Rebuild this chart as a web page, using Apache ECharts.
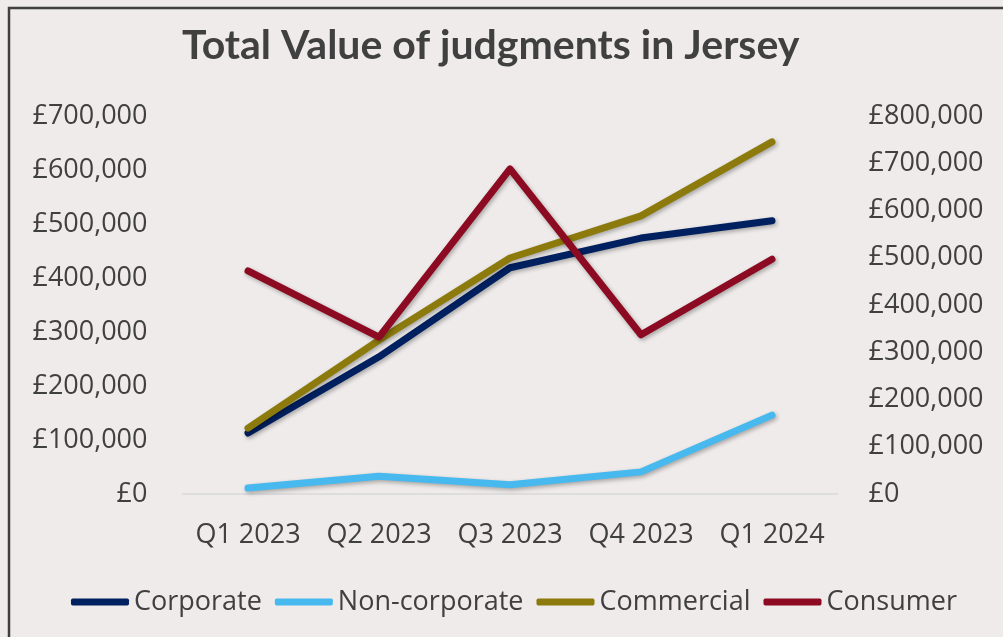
<!DOCTYPE html>
<html>
<head>
<meta charset="utf-8">
<script src="https://cdn.jsdelivr.net/npm/echarts@6/dist/echarts.min.js"></script>
<style>
  html, body { margin: 0; padding: 0; background: #eeebea; }
  #chart { width: 1003px; height: 637px; }
</style>
</head>
<body>
<div id="chart"></div>
<script>
// data
let quarters = ['Q1 2023', 'Q2 2023', 'Q3 2023', 'Q4 2023', 'Q1 2024'];
let corporate = [113000, 254000, 419000, 474000, 506000];
let nonCorporate = [11000, 33000, 17000, 41000, 146000];
let commercial = [122000, 285000, 437000, 515000, 652000];
// consumer is plotted on the right axis
let consumer = [472000, 332000, 688000, 337000, 497000];

let textColor = '#404040';
let font = '"Open Sans", sans-serif';

let myChart = echarts.init(document.getElementById('chart'));

function pounds(v) {
    return '£' + v.toLocaleString('en-GB');
}

function lineSeries(name, data, color, axis) {
    return {
        name: name,
        type: 'line',
        yAxisIndex: axis,
        data: data,
        symbol: 'none',
        color: color,
        lineStyle: {
            width: 7,
            color: color,
            cap: 'round',
            join: 'round',
            shadowColor: 'rgba(0,0,0,0.3)',
            shadowBlur: 4,
            shadowOffsetX: 1.5,
            shadowOffsetY: 2
        }
    };
}

let option = {
    backgroundColor: '#eeebea',
    animation: false,
    title: {
        text: 'Total Value of judgments in Jersey',
        left: 177,
        top: 20,
        textStyle: {
            fontFamily: 'Lato, sans-serif',
            fontWeight: 'bold',
            fontSize: 41,
            color: textColor
        }
    },
    graphic: [{
        type: 'rect',
        shape: { x: 9, y: 8, width: 1100, height: 700 },
        style: { fill: 'none', stroke: textColor, lineWidth: 2.5 },
        silent: true
    }],
    legend: {
        left: 66,
        top: 582,
        itemWidth: 58,
        itemHeight: 7,
        itemGap: 13,
        icon: 'roundRect',
        textStyle: {
            fontFamily: font,
            fontSize: 27,
            color: textColor,
            lineHeight: 30
        },
        data: ['Corporate', 'Non-corporate', 'Commercial', 'Consumer']
    },
    grid: {
        left: 182.5,
        right: 165.5,
        top: 116,
        bottom: 143,
        containLabel: false
    },
    xAxis: {
        type: 'category',
        data: quarters,
        axisLine: { lineStyle: { color: '#d9d9d9', width: 1.5 } },
        axisTick: { show: false },
        axisLabel: {
            interval: 0,
            margin: 28,
            fontFamily: font,
            fontSize: 27,
            color: textColor
        }
    },
    yAxis: [{
        type: 'value',
        min: 0,
        max: 700000,
        interval: 100000,
        splitLine: { show: false },
        axisLine: { show: false },
        axisTick: { show: false },
        axisLabel: {
            margin: 35,
            fontFamily: font,
            fontSize: 27,
            color: textColor,
            formatter: pounds
        }
    }, {
        type: 'value',
        min: 0,
        max: 800000,
        interval: 100000,
        splitLine: { show: false },
        axisLine: { show: false },
        axisTick: { show: false },
        axisLabel: {
            margin: 31,
            fontFamily: font,
            fontSize: 27,
            color: textColor,
            formatter: pounds
        }
    }],
    series: [
        lineSeries('Corporate', corporate, '#002060', 0),
        lineSeries('Non-corporate', nonCorporate, '#47b9ef', 0),
        lineSeries('Commercial', commercial, '#8c7b0c', 0),
        lineSeries('Consumer', consumer, '#8c0b22', 1)
    ]
};

myChart.setOption(option);
</script>
</body>
</html>
